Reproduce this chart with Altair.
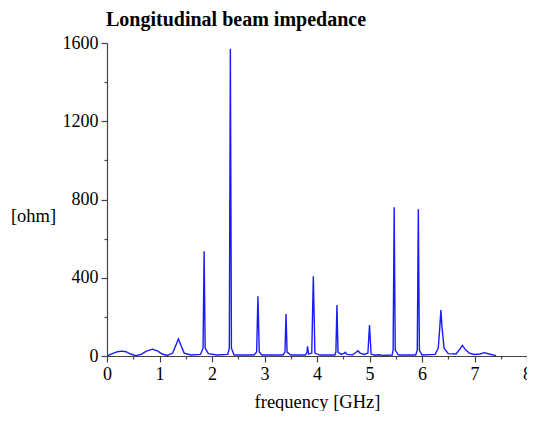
import altair as alt
import pandas as pd

freq = [0.00, 0.10, 0.20, 0.28, 0.36, 0.45, 0.55, 0.65, 0.75, 0.87, 0.97, 1.05, 1.15,
        1.25, 1.32, 1.36, 1.40, 1.47, 1.60, 1.78, 1.83, 1.85, 1.87, 1.93, 2.10,
        2.30, 2.33, 2.35, 2.37, 2.42, 2.80, 2.85, 2.875, 2.90, 2.95,
        3.35, 3.39, 3.41, 3.43, 3.50, 3.78, 3.81, 3.82, 3.84, 3.90, 3.93, 3.96, 4.05,
        4.34, 4.36, 4.38, 4.40, 4.46, 4.52, 4.54, 4.57, 4.68, 4.74, 4.78, 4.82, 4.90,
        4.97, 5.00, 5.03, 5.10, 5.18, 5.25, 5.43, 5.45, 5.47, 5.49, 5.55,
        5.88, 5.91, 5.93, 5.95, 6.00, 6.25, 6.31, 6.34, 6.36, 6.38, 6.42, 6.50,
        6.65, 6.72, 6.77, 6.82, 6.90, 7.00, 7.10, 7.19, 7.28, 7.41]
impedance = [0, 12, 22, 25, 22, 10, 2, 8, 25, 35, 25, 10, 3,
             15, 60, 87, 60, 15, 5, 8, 40, 535, 40, 12, 5,
             8, 40, 1570, 40, 5, 5, 20, 305, 20, 5,
             5, 20, 215, 20, 5, 5, 20, 49, 10, 15, 408, 15, 5,
             5, 20, 260, 20, 8, 15, 19, 8, 6, 18, 27, 15, 8,
             15, 158, 10, 4, 6, 3, 5, 30, 760, 30, 5,
             5, 30, 750, 30, 5, 8, 40, 150, 235, 150, 40, 12,
             10, 35, 54, 35, 15, 8, 10, 17, 10, 2]

x_ticks = [i * 0.5 for i in range(17)]
y_ticks = [0, 200, 400, 600, 800, 1000, 1200, 1400, 1600]

df = pd.DataFrame({"freq": freq, "imp": impedance})
FONT = "Liberation Serif"
AX = "#444444"

chart = alt.Chart(df).mark_line(color="#1a1aff", strokeWidth=1.4, clip=True).encode(
    x=alt.X("freq:Q", scale=alt.Scale(domain=[0, 8], nice=False),
            axis=alt.Axis(values=x_ticks, title="frequency [GHz]",
                          labelExpr="datum.value % 1 === 0 ? format(datum.value, 'd') : ''",
                          tickSize={"condition": {"test": "datum.value % 1 === 0", "value": 6}, "value": 3},
                          labelOverlap=False, labelFlush=False, grid=False,
                          labelPadding=3, titlePadding=9)),
    y=alt.Y("imp:Q", scale=alt.Scale(domain=[0, 1600], nice=False),
            axis=alt.Axis(values=y_ticks, title="[ohm]",
                          labelExpr="datum.value % 400 === 0 ? format(datum.value, 'd') : ''",
                          tickSize={"condition": {"test": "datum.value % 400 === 0", "value": 6}, "value": 3},
                          labelOverlap=False, grid=False, labelPadding=3,
                          titleAngle=0, titleAlign="center", titleBaseline="middle",
                          titleX=-74, titleY=172)),
).properties(
    width=420, height=313,
    background="white",
    autosize=alt.AutoSizeParams(type="none"),
    title=alt.TitleParams("Longitudinal beam impedance", anchor="start", frame="group", dx=-1,
                          font=FONT, fontSize=20, fontWeight="bold", color="black", offset=4),
    padding={"left": 99, "top": 35, "right": 0, "bottom": 55},
).configure_view(stroke=None).configure_axis(
    labelFont=FONT, labelFontSize=18, labelColor="black",
    titleFont=FONT, titleFontSize=18.5, titleFontWeight="normal", titleColor="black",
    domainColor=AX, tickColor=AX, domainWidth=1.2, tickWidth=1.2,
)

chart.save("out.html", embed_options={"renderer": "svg", "actions": False})
